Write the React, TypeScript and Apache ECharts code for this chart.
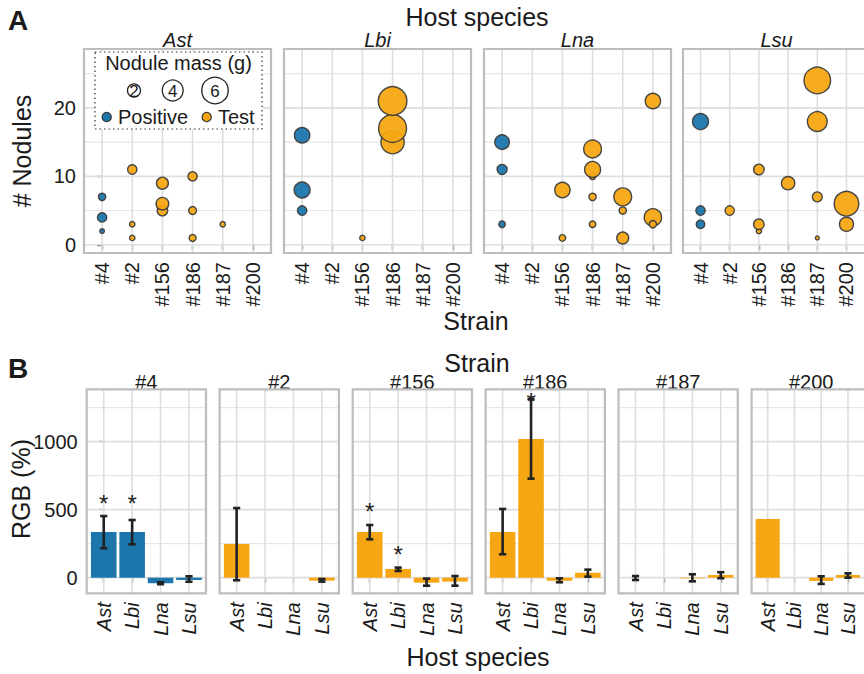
import React, { useEffect, useRef } from 'react';
import * as echarts from 'echarts';

// ---------------- data ----------------
const strains = ['#4', '#2', '#156', '#186', '#187', '#200'];
const hostSpecies = ['Ast', 'Lbi', 'Lna', 'Lsu'];
const positiveStrain = '#4';
const nodulesTicks = [0, 10, 20];
const nodulesMinor = [5, 15, 25];
const rgbTicks = [0, 500, 1000];
const rgbMinor = [250, 750, 1250];
const massLegend = [2, 4, 6];

// Panel A: [strain, # nodules, nodule mass (g)]
const nodAst: [string, number, number][] = [
  ['#4', 7, 1.3], ['#4', 4, 1.6], ['#4', 2, 1.0],
  ['#2', 11, 1.6], ['#2', 3, 1.07], ['#2', 1, 1.07],
  ['#156', 9, 2.06], ['#156', 5, 1.8], ['#156', 6, 2.2],
  ['#186', 10, 1.6], ['#186', 5, 1.38], ['#186', 1, 1.25],
  ['#187', 3, 1.07],
];
const nodLbi: [string, number, number][] = [
  ['#4', 16, 2.83], ['#4', 8, 2.98], ['#4', 5, 1.6],
  ['#156', 1, 1.07],
  ['#186', 15, 5.3], ['#186', 17, 7.2], ['#186', 21, 7.5],
];
const nodLna: [string, number, number][] = [
  ['#4', 15, 2.65], ['#4', 11, 1.7], ['#4', 3, 1.2],
  ['#156', 8, 2.83], ['#156', 1, 1.2],
  ['#186', 10, 1.2], ['#186', 14, 3.5], ['#186', 11, 3.0], ['#186', 7, 1.3], ['#186', 3, 1.2],
  ['#187', 7, 3.5], ['#187', 5, 1.3], ['#187', 1, 2.06],
  ['#200', 21, 2.83], ['#200', 4, 3.36], ['#200', 3, 1.3],
];
const nodLsu: [string, number, number][] = [
  ['#4', 18, 3.0], ['#4', 5, 1.6], ['#4', 3, 1.48],
  ['#2', 5, 1.6],
  ['#156', 11, 1.8], ['#156', 2, 1.07], ['#156', 3, 1.8],
  ['#186', 9, 2.35],
  ['#187', 24, 6.6], ['#187', 18, 4.1], ['#187', 7, 1.7], ['#187', 1, 0.94],
  ['#200', 6, 5.8], ['#200', 3, 2.5],
];

// Panel B: RGB (%) per strain, hosts in order Ast, Lbi, Lna, Lsu
const rgbS4 = [336, 336, -41, -17];
const lowS4 = [216, 245, -48, -30];
const highS4 = [453, 424, -34, 10];
const starS4 = [588, 588, null, null];

const rgbS2 = [248, null, null, -22];
const lowS2 = [-19, null, null, -29];
const highS2 = [512, null, null, -10];
const starS2 = [null, null, null, null];

const rgbS156 = [336, 64, -37, -29];
const lowS156 = [282, 49, -59, -59];
const highS156 = [387, 74, -7, 12];
const starS156 = [527, 211, null, null];

const rgbS186 = [336, 1020, -22, 37];
const lowS186 = [172, 728, -34, 7];
const highS186 = [505, 1314, -5, 59];
const starS186 = [null, 1338, null, null];

const rgbS187 = [0, null, -5, 20];
const lowS187 = [-17, null, -27, -4];
const highS187 = [12, null, 25, 40];
const starS187 = [null, null, null, null];

const rgbS200 = [432, null, -24, 20];
const lowS200 = [null, null, -46, 0];
const highS200 = [null, null, 10, 32];
const starS200 = [null, null, null, null];

// ---------------- styles / layout ----------------
const FONT = '"Liberation Sans", Arial, Helvetica, sans-serif';
const TEXT = '#1a1a1a';
const BLUE = '#1C76AC';
const ORANGE = '#F7A613';
const GRID_MAJOR = '#DEDEDE';
const GRID_MINOR = '#E6E6E6';
const BORDER = '#BDBDBD';

const A_LEFTS = [84, 284, 484, 683];
const A_TOP = 49;
const A_W = 187;
const A_H = 204;
const B_LEFTS = [86.7, 219.6, 352.7, 485.6, 618.5, 751.6];
const B_TOP = 389.3;
const B_W = 119.3;
const B_H = 204;

const sizeOfMass = (m: number) => Math.sqrt(Math.max(9, 133 * m - 97)) - 1.4;

function gridLineSeries(idx: number, hMajor: number[], hMinor: number[], vMajor: number[]) {
  const data = [
    ...hMajor.map((v) => [v, 0]),
    ...hMinor.map((v) => [v, 1]),
    ...vMajor.map((v) => [v, 2]),
  ];
  return {
    type: 'custom',
    xAxisIndex: idx,
    yAxisIndex: idx,
    z: 1,
    silent: true,
    clip: false,
    data,
    renderItem: (params: any, api: any) => {
      const v = api.value(0);
      const k = api.value(1);
      const cs = params.coordSys;
      if (k === 2) {
        const x = api.coord([v, 0])[0];
        return {
          type: 'line',
          shape: { x1: x, y1: cs.y, x2: x, y2: cs.y + cs.height },
          style: { stroke: GRID_MAJOR, lineWidth: 1.6 },
        };
      }
      const y = api.coord([0, v])[1];
      return {
        type: 'line',
        shape: { x1: cs.x, y1: y, x2: cs.x + cs.width, y2: y },
        style: { stroke: k === 0 ? GRID_MAJOR : GRID_MINOR, lineWidth: k === 0 ? 1.6 : 1.1 },
      };
    },
  };
}

function buildOption() {
  const grids: any[] = [];
  const xAxes: any[] = [];
  const yAxes: any[] = [];
  const series: any[] = [];
  const graphics: any[] = [];

  const labelBase = { fontFamily: FONT, fontSize: 20, color: TEXT };
  const tickBase = { show: true, length: 5, lineStyle: { color: '#555', width: 1.4 } };
  const plainNumber = (v: number) => String(Math.round(v));

  // ---------- Panel A ----------
  const nodSets = [nodAst, nodLbi, nodLna, nodLsu];
  const strainIdx = strains.map((_, k) => k);
  nodSets.forEach((pts, i) => {
    grids.push({ left: A_LEFTS[i], top: A_TOP, width: A_W, height: A_H });
    xAxes.push({
      type: 'value', gridIndex: i, min: -0.6, max: strains.length - 0.4,
      axisLine: { show: false }, splitLine: { show: false },
      axisTick: { ...tickBase, customValues: strainIdx },
      axisLabel: {
        ...labelBase, customValues: strainIdx, rotate: 90, margin: 9,
        formatter: (v: number) => strains[Math.round(v)] ?? '',
      },
    });
    yAxes.push({
      type: 'value', gridIndex: i, min: -1.2, max: 28.6,
      axisLine: { show: false }, splitLine: { show: false },
      axisTick: i === 0 ? { ...tickBase, customValues: nodulesTicks } : { show: false },
      axisLabel: i === 0 ? { ...labelBase, customValues: nodulesTicks, margin: 8, formatter: plainNumber } : { show: false },
    });
    series.push(gridLineSeries(i, nodulesTicks, nodulesMinor, strainIdx));
    series.push({
      type: 'scatter', xAxisIndex: i, yAxisIndex: i, z: 3, silent: true,
      data: pts.map(([s, n, m]) => ({
        value: [strains.indexOf(s), n, m],
        symbolSize: sizeOfMass(m),
        itemStyle: { color: s === positiveStrain ? BLUE : ORANGE },
      })),
      itemStyle: { borderColor: '#3d3d3d', borderWidth: 1.4, opacity: 0.95 },
    });
    graphics.push({
      type: 'text', x: A_LEFTS[i] + A_W / 2, y: 40, silent: true,
      style: { text: hostSpecies[i], font: `italic 20px ${FONT}`, fill: TEXT, textAlign: 'center', textVerticalAlign: 'middle' },
    });
    graphics.push({
      type: 'rect', z: 100, silent: true,
      shape: { x: A_LEFTS[i], y: A_TOP, width: A_W, height: A_H },
      style: { fill: 'none', stroke: BORDER, lineWidth: 2.2 },
    });
  });

  // ---------- Panel B ----------
  const rgbSets = [rgbS4, rgbS2, rgbS156, rgbS186, rgbS187, rgbS200];
  const lowSets = [lowS4, lowS2, lowS156, lowS186, lowS187, lowS200];
  const highSets = [highS4, highS2, highS156, highS186, highS187, highS200];
  const starSets = [starS4, starS2, starS156, starS186, starS187, starS200];
  const hostIdx = hostSpecies.map((_, k) => k);

  strains.forEach((s, j) => {
    const gi = 4 + j;
    const color = s === positiveStrain ? BLUE : ORANGE;
    grids.push({ left: B_LEFTS[j], top: B_TOP, width: B_W, height: B_H });
    xAxes.push({
      type: 'value', gridIndex: gi, min: -0.6, max: hostSpecies.length - 0.4,
      axisLine: { show: false }, splitLine: { show: false },
      axisTick: { ...tickBase, customValues: hostIdx },
      axisLabel: {
        ...labelBase, fontStyle: 'italic', customValues: hostIdx, rotate: 90, margin: 9,
        formatter: (v: number) => hostSpecies[Math.round(v)] ?? '',
      },
    });
    yAxes.push({
      type: 'value', gridIndex: gi, min: -115, max: 1385,
      axisLine: { show: false }, splitLine: { show: false },
      axisTick: j === 0 ? { ...tickBase, customValues: rgbTicks } : { show: false },
      axisLabel: j === 0 ? { ...labelBase, customValues: rgbTicks, margin: 9, formatter: plainNumber } : { show: false },
    });
    series.push(gridLineSeries(gi, rgbTicks, rgbMinor, hostIdx));
    series.push({
      type: 'custom', xAxisIndex: gi, yAxisIndex: gi, z: 2, silent: true, clip: false,
      data: rgbSets[j].map((v, k) => (v == null ? null : [k, v])).filter((d) => d),
      renderItem: (_p: any, api: any) => {
        const x = api.value(0);
        const v = api.value(1);
        const p0 = api.coord([x - 0.45, 0]);
        const p1 = api.coord([x + 0.45, v]);
        return {
          type: 'rect',
          shape: { x: p0[0], y: Math.min(p0[1], p1[1]), width: p1[0] - p0[0], height: Math.abs(p1[1] - p0[1]) },
          style: { fill: color },
        };
      },
    });
    series.push({
      type: 'custom', xAxisIndex: gi, yAxisIndex: gi, z: 4, silent: true, clip: false,
      data: lowSets[j].map((lo, k) => (lo == null ? null : [k, lo, highSets[j][k]])).filter((d) => d),
      renderItem: (_p: any, api: any) => {
        const x = api.value(0);
        const pl = api.coord([x, api.value(1)]);
        const ph = api.coord([x, api.value(2)]);
        const hw = 3.6;
        const st = { stroke: '#222', lineWidth: 2.6 };
        return {
          type: 'group',
          children: [
            { type: 'line', shape: { x1: pl[0], y1: pl[1], x2: ph[0], y2: ph[1] }, style: st },
            { type: 'line', shape: { x1: pl[0] - hw, y1: pl[1], x2: pl[0] + hw, y2: pl[1] }, style: st },
            { type: 'line', shape: { x1: ph[0] - hw, y1: ph[1], x2: ph[0] + hw, y2: ph[1] }, style: st },
          ],
        };
      },
    });
    series.push({
      type: 'custom', xAxisIndex: gi, yAxisIndex: gi, z: 4, silent: true, clip: false,
      data: starSets[j].map((v, k) => (v == null ? null : [k, v])).filter((d) => d),
      renderItem: (_p: any, api: any) => {
        const p = api.coord([api.value(0), api.value(1)]);
        return {
          type: 'text', x: p[0], y: p[1] + 6,
          style: { text: '*', font: `24px ${FONT}`, fill: '#222', textAlign: 'center', textVerticalAlign: 'middle' },
        };
      },
    });
    graphics.push({
      type: 'text', x: B_LEFTS[j] + B_W / 2, y: 382, silent: true,
      style: { text: s, font: `20px ${FONT}`, fill: TEXT, textAlign: 'center', textVerticalAlign: 'middle' },
    });
    graphics.push({
      type: 'rect', z: 100, silent: true,
      shape: { x: B_LEFTS[j], y: B_TOP, width: B_W, height: B_H },
      style: { fill: 'none', stroke: BORDER, lineWidth: 2.2 },
    });
  });

  // ---------- titles ----------
  const title = (text: string, x: number, y: number, size: number, extra: any = {}) => ({
    type: 'text', x, y, silent: true,
    style: { text, font: `${extra.weight || ''} ${size}px ${FONT}`.trim(), fill: TEXT, textAlign: extra.align || 'center', textVerticalAlign: 'middle' },
  });
  graphics.push(title('A', 8, 20, 28, { weight: 'bold', align: 'left' }));
  graphics.push(title('B', 8, 368, 28, { weight: 'bold', align: 'left' }));
  graphics.push(title('Host species', 477, 17, 25));
  graphics.push(title('Strain', 476, 321, 25));
  graphics.push(title('Strain', 477, 363, 25));
  graphics.push(title('Host species', 478, 657, 25));
  graphics.push({ ...title('# Nodules', 22, 151, 25), rotation: Math.PI / 2 });
  graphics.push({ ...title('RGB (%)', 21, 489, 25), rotation: Math.PI / 2 });

  // ---------- legend (inside Ast panel) ----------
  graphics.push({
    type: 'rect', z: 50, silent: true,
    shape: { x: 95, y: 52, width: 167, height: 77 },
    style: { fill: '#ffffff', stroke: '#333', lineWidth: 1.2, lineDash: [1.5, 3] },
  });
  graphics.push({ ...title('Nodule mass (g)', 178.5, 63, 20), z: 51 });
  const legendX = [134, 172.7, 215];
  massLegend.forEach((m, k) => {
    graphics.push({
      type: 'circle', z: 51, silent: true,
      shape: { cx: legendX[k], cy: 90.5, r: (sizeOfMass(m) + 1.4) / 2 },
      style: { fill: '#fff', stroke: '#222', lineWidth: 1.3 },
    });
    graphics.push({ ...title(String(m), legendX[k], 91, 17), z: 52 });
  });
  graphics.push({
    type: 'circle', z: 51, silent: true,
    shape: { cx: 106.7, cy: 117, r: 4.6 },
    style: { fill: BLUE, stroke: '#3d3d3d', lineWidth: 1.3 },
  });
  graphics.push({ ...title('Positive', 118, 117, 20, { align: 'left' }), z: 51 });
  graphics.push({
    type: 'circle', z: 51, silent: true,
    shape: { cx: 206.7, cy: 117, r: 4.6 },
    style: { fill: ORANGE, stroke: '#3d3d3d', lineWidth: 1.3 },
  });
  graphics.push({ ...title('Test', 218, 117, 20, { align: 'left' }), z: 51 });

  return {
    animation: false,
    backgroundColor: '#ffffff',
    textStyle: { fontFamily: FONT },
    grid: grids,
    xAxis: xAxes,
    yAxis: yAxes,
    series,
    graphic: graphics,
  };
}

export default function App() {
  const ref = useRef<HTMLDivElement>(null);
  useEffect(() => {
    if (!ref.current) return;
    const chart = echarts.init(ref.current, null, { renderer: 'svg' });
    chart.setOption(buildOption() as any);
    return () => chart.dispose();
  }, []);
  return (
    <div
      ref={ref}
      style={{ position: 'fixed', left: 0, top: 0, width: 864, height: 674, background: '#fff' }}
    />
  );
}
